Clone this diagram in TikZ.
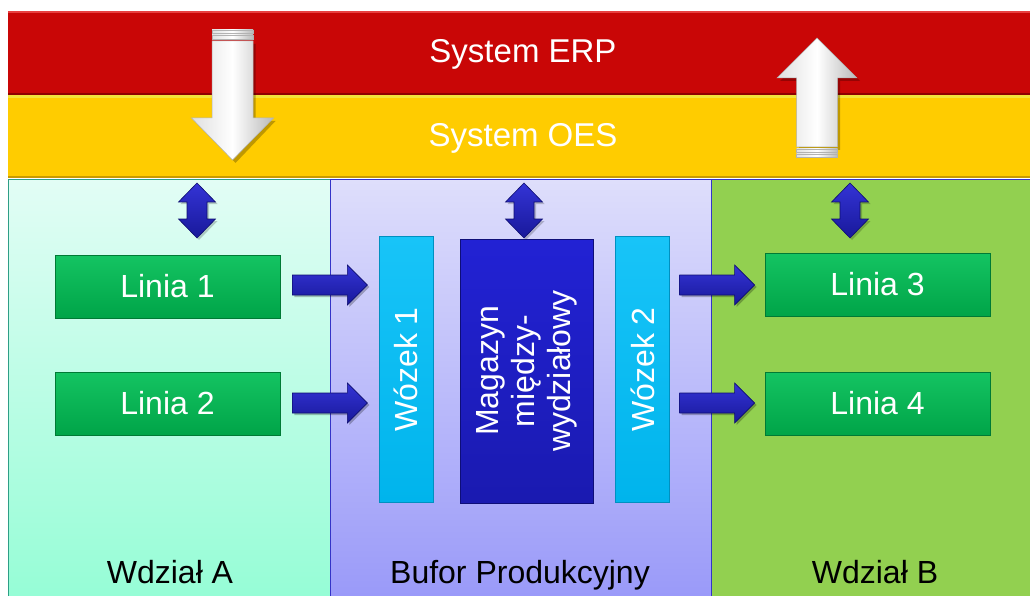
\documentclass[tikz,border=0pt]{standalone}
\usepackage{fontspec}
\setmainfont{Liberation Sans}
\usetikzlibrary{calc}
\definecolor{erpred}{HTML}{C90606}
\definecolor{erplight}{HTML}{E84040}
\definecolor{erpdark}{HTML}{8E0000}
\definecolor{oesyel}{HTML}{FFCC00}
\definecolor{oeslight}{HTML}{F2E23A}
\definecolor{oesdark}{HTML}{C89A00}
\definecolor{atop}{HTML}{E2FDF5}
\definecolor{abot}{HTML}{96FDD6}
\definecolor{aedge}{HTML}{2E9E86}
\definecolor{btop}{HTML}{DEDEFB}
\definecolor{bbot}{HTML}{9A9AF9}
\definecolor{bedge}{HTML}{3434C8}
\definecolor{cgreen}{HTML}{92D050}
\definecolor{gtop}{HTML}{14C462}
\definecolor{gbot}{HTML}{00A448}
\definecolor{gedge}{HTML}{007A35}
\definecolor{wtop}{HTML}{18C4F8}
\definecolor{wbot}{HTML}{00B4EC}
\definecolor{wedge}{HTML}{0090C0}
\definecolor{mtop}{HTML}{2222D4}
\definecolor{mbot}{HTML}{1A1AB0}
\definecolor{medge}{HTML}{0E0E78}
\definecolor{artop}{HTML}{3434D6}
\definecolor{arbot}{HTML}{18189A}
\definecolor{aredge}{HTML}{0E0E70}
\tikzset{
  band/.style={anchor=north west, inner sep=0pt, outer sep=0pt, minimum height=#1},
  bandtext/.style={anchor=base, text=white, font=\fontsize{33}{38}\selectfont},
  panel/.style={anchor=north west, inner sep=0pt, outer sep=0pt, minimum height=416, line width=1pt},
  paneltext/.style={anchor=base, text=black, font=\fontsize{32}{38}\selectfont},
  linebox/.style={top color=gtop, bottom color=gbot, draw=gedge, line width=.8pt,
    minimum width=225, minimum height=63, inner sep=0pt, text=white,
    font=\fontsize{32}{38}\selectfont},
  cartbox/.style={top color=wtop, bottom color=wbot, draw=wedge, line width=.8pt,
    rotate=90, minimum width=266, minimum height=54, inner sep=0pt, text=white,
    font=\fontsize{32}{38}\selectfont},
  storebox/.style={top color=mtop, bottom color=mbot, draw=medge, line width=.8pt,
    rotate=90, minimum width=264, minimum height=133, inner sep=0pt, text=white,
    align=center, font=\fontsize{32}{36}\selectfont},
  rarrow/.pic={
    \fill[black, opacity=.25] (2,-8) -- (57,-8) -- (57,-18) -- (77,2) -- (57,22) -- (57,12) -- (2,12) -- cycle;
    \shade[top color=artop, bottom color=arbot, draw=aredge, line width=.6pt]
      (0,-10) -- (55,-10) -- (55,-20) -- (75,0) -- (55,20) -- (55,10) -- (0,10) -- cycle;
  },
  udarrow/.pic={
    \fill[black, opacity=.2] (2,2) -- (20.5,21) -- (12,21) -- (12,38) -- (20.5,38) -- (2,57) -- (-16.5,38) -- (-8,38) -- (-8,21) -- (-16.5,21) -- cycle;
    \shade[top color=artop, bottom color=arbot, draw=aredge, line width=.6pt]
      (0,0) -- (18.5,19) -- (10,19) -- (10,36) -- (18.5,36) -- (0,55) -- (-18.5,36) -- (-10,36) -- (-10,19) -- (-18.5,19) -- cycle;
  },
  whitearrow/.style={left color=gray!25, right color=gray!55, middle color=white, draw=gray!60, line width=.5pt},
  downarrow/.pic={
    \fill[black, opacity=.25] (-18,14) -- (23,14) -- (23,91) -- (43,91) -- (3,133) -- (-38,91) -- (-18,91) -- cycle;
    \shade[whitearrow] (-20.5,0) rectangle (20.5,3);
    \shade[whitearrow] (-20.5,5) rectangle (20.5,9);
    \shade[whitearrow] (-20.5,11) -- (20.5,11) -- (20.5,88) -- (41,88) -- (0,130) -- (-41,88) -- (-20.5,88) -- cycle;
  },
  uparrow/.pic={
    \fill[black, opacity=.25] (3,3) -- (43,43) -- (23,43) -- (23,112) -- (-18,112) -- (-18,43) -- (-37,43) -- cycle;
    \shade[whitearrow] (0,0) -- (40,40) -- (20.5,40) -- (20.5,109) -- (-20.5,109) -- (-20.5,40) -- (-40,40) -- cycle;
    \shade[whitearrow] (-20.5,111) rectangle (20.5,114);
    \shade[whitearrow] (-20.5,116) rectangle (20.5,119);
  }
}
\begin{document}
\begin{tikzpicture}[x=1pt,y=-1pt]
\useasboundingbox[fill=white] (0,0) rectangle (1030,596);

% panels
\node[panel, top color=atop, bottom color=abot, draw=aedge, minimum width=322] (pa) at (8,180) {};
\node[panel, top color=btop, bottom color=bbot, draw=bedge, minimum width=381] (pb) at (330,180) {};
\node[panel, fill=cgreen, draw=bedge, minimum width=320] (pc) at (711,180) {};
\node[paneltext] (la) at (170,583) {Wdział A};
\node[paneltext] (lb) at (520,583) {Bufor Produkcyjny};
\node[paneltext] (lc) at (875,583) {Wdział B};

% bands
\node[band=84, fill=erpred, minimum width=1022] (erp) at (8,11) {};
\node[band=83, fill=oesyel, minimum width=1022] (oes) at (8,95) {};
\draw[erplight, line width=2pt] ([yshift=-1pt]erp.north west) -- ([yshift=-1pt]erp.north east);
\draw[erpdark, line width=1.5pt] ([yshift=1pt]erp.south west) -- ([yshift=1pt]erp.south east);
\draw[oeslight, line width=2.5pt] ([yshift=-1.5pt]oes.north west) -- ([yshift=-1.5pt]oes.north east);
\draw[oesdark, line width=2pt] ([yshift=1pt]oes.south west) -- ([yshift=1pt]oes.south east);
\node[bandtext] (terp) at (523,63) {System ERP};
\node[bandtext] (toes) at (523,147) {System OES};

% white arrows between ERP and OES
\pic at (232.5,30) {downarrow};
\pic at (817,38) {uparrow};

% double arrows from OES to the departments
\pic at (197,183) {udarrow};
\pic at (524,183) {udarrow};
\pic at (850,183) {udarrow};

% line boxes
\node[linebox] (l1) at (167.5,286.5) {Linia 1};
\node[linebox] (l2) at (167.5,403.5) {Linia 2};
\node[linebox] (l3) at (877.5,284.5) {Linia 3};
\node[linebox] (l4) at (877.5,403.5) {Linia 4};

% buffer boxes
\node[cartbox] (w1) at (406,369.5) {Wózek 1};
\node[storebox] (mag) at (526.5,371) {Magazyn\\między-\\wydziałowy};
\node[cartbox] (w2) at (642.5,369.5) {Wózek 2};

% block arrows
\pic at ($(l1.east)+(12,-1.5)$) {rarrow};
\pic at ($(l2.east)+(12,-0.5)$) {rarrow};
\pic at ($(l3.west)+(-85,0.5)$) {rarrow};
\pic at ($(l4.west)+(-85,-0.5)$) {rarrow};
\end{tikzpicture}
\end{document}
